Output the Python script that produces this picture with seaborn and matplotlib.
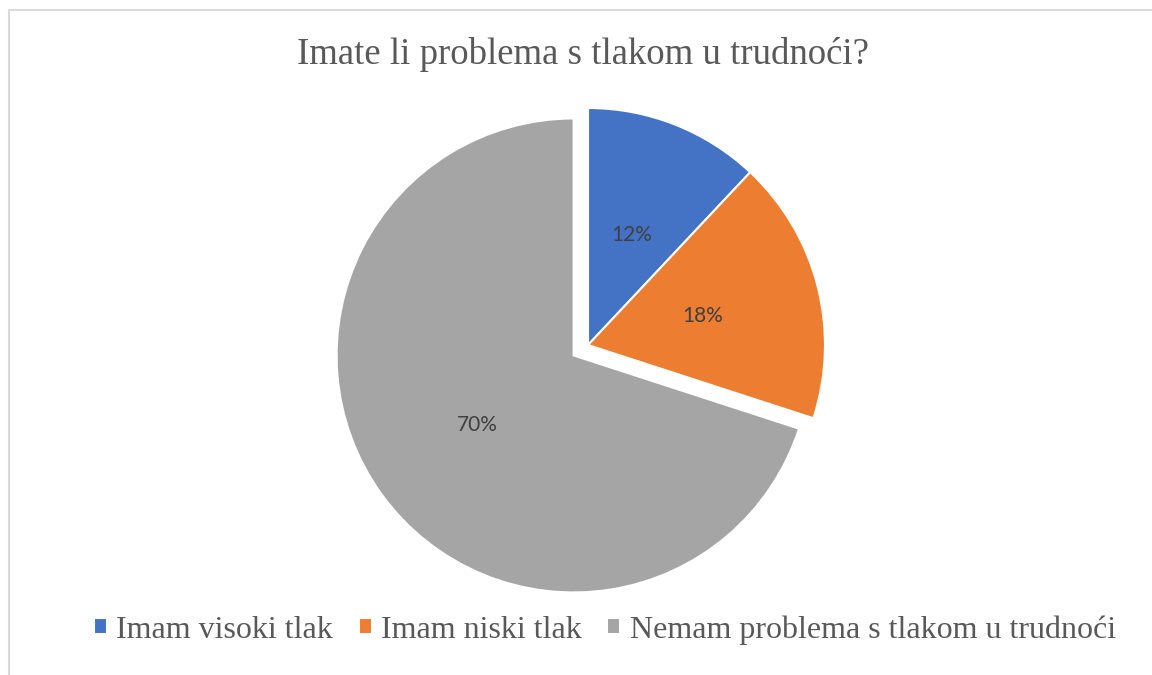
# -*- coding: utf-8 -*-
import matplotlib
matplotlib.use('Agg')
import matplotlib.pyplot as plt
from matplotlib.patches import Rectangle
import seaborn as sns

# 데이터
categories = ['Imam visoki tlak', 'Imam niski tlak', 'Nemam problema s tlakom u trudnoći']
values = [12, 18, 70]
colors = ['#4472C4', '#ED7D31', '#A5A5A5']
title = 'Imate li problema s tlakom u trudnoći?'

sns.set_style('white')
plt.rcParams['font.family'] = ['Liberation Serif', 'DejaVu Serif']

fig = plt.figure(figsize=(11.52, 6.75), dpi=100)

# 테두리 (위/왼쪽만 보임)
fig.patches.append(Rectangle((9 / 1152, -0.1), 1.2, (675 - 10) / 675 + 0.1,
                             transform=fig.transFigure, fill=False,
                             edgecolor='#D9D9D9', linewidth=1.5))

# 파이 차트 영역 (중심 588, 345 px / 반지름 237 px)
R = 237
cx, cy = 588, 675 - 345
half = 300
ax = fig.add_axes([(cx - half) / 1152, (cy - half) / 675, 2 * half / 1152, 2 * half / 675])
wedges, texts, autotexts = ax.pie(
    values, colors=colors, startangle=90, counterclock=False,
    explode=[0, 0, 0.075], autopct='%1.0f%%', pctdistance=0.5,
    wedgeprops=dict(edgecolor='white', linewidth=1.5),
    textprops=dict(family=['Lato', 'DejaVu Sans'], fontsize=15, color='#404040'))
ax.set_xlim(-half / R, half / R)
ax.set_ylim(-half / R, half / R)
ax.set_aspect('equal')
ax.axis('off')

fig.text(583 / 1152, 1 - 55 / 675, title, ha='center', va='center',
         fontsize=26.5, color='#595959')

fig.legend(wedges, categories, loc='center', bbox_to_anchor=(605 / 1152, 45 / 675),
           ncol=3, frameon=False, fontsize=23, labelcolor='#595959',
           handlelength=0.4, handleheight=0.4, handletextpad=0.3,
           columnspacing=0.8)

fig.savefig('out.png', dpi=100)
